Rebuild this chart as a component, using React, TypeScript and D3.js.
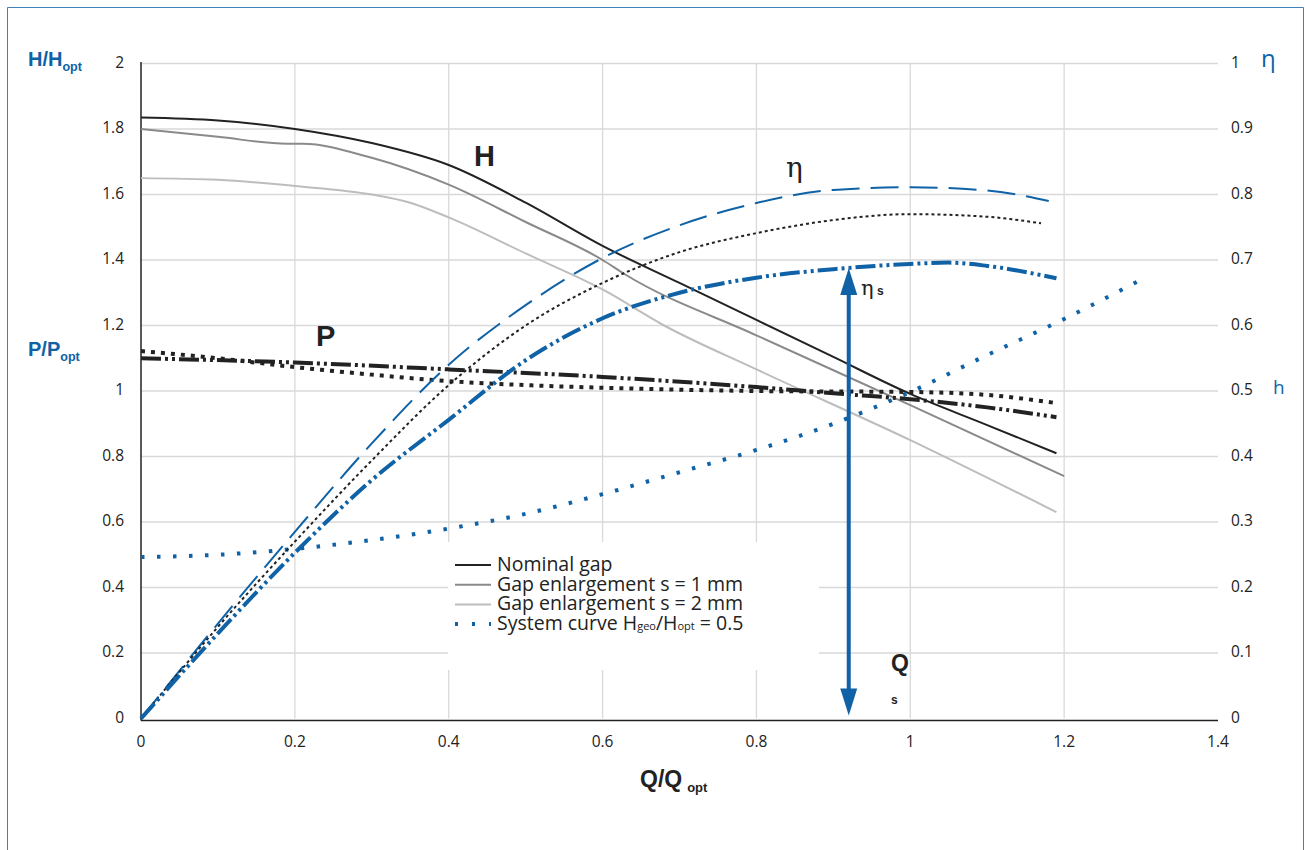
import React from "react";
import * as d3 from "d3";

// ---------- data ----------
const xTicks = [0, 0.2, 0.4, 0.6, 0.8, 1, 1.2, 1.4];
const leftTicks = [0, 0.2, 0.4, 0.6, 0.8, 1, 1.2, 1.4, 1.6, 1.8, 2];
const rightTicks = [0, 0.1, 0.2, 0.3, 0.4, 0.5, 0.6, 0.7, 0.8, 0.9, 1];

const qHnom = [0, 0.1, 0.2, 0.3, 0.4, 0.5, 0.6, 0.7, 0.8, 0.9, 1.0, 1.1, 1.19];
const hNom = [1.835, 1.826, 1.8, 1.757, 1.69, 1.575, 1.443, 1.33, 1.217, 1.104, 0.991, 0.896, 0.81];

const qHs1 = [0, 0.1, 0.19, 0.21, 0.3, 0.4, 0.5, 0.6, 0.63, 0.8, 1.0, 1.2];
const hS1 = [1.8, 1.776, 1.755, 1.755, 1.712, 1.63, 1.516, 1.4, 1.355, 1.17, 0.957, 0.74];

const qHs2 = [0, 0.1, 0.2, 0.3, 0.35, 0.4, 0.5, 0.6, 0.68, 0.8, 1.0, 1.19];
const hS2 = [1.65, 1.645, 1.626, 1.6, 1.575, 1.53, 1.42, 1.31, 1.2, 1.066, 0.85, 0.63];

const qEtaNom = [0, 0.1, 0.2, 0.3, 0.4, 0.5, 0.6, 0.7, 0.8, 0.9, 1.0, 1.1, 1.18];
const etaNom = [0, 0.145, 0.285, 0.42, 0.54, 0.631, 0.703, 0.753, 0.787, 0.807, 0.811, 0.806, 0.79];

const qEtaS1 = [0, 0.1, 0.2, 0.3, 0.4, 0.5, 0.6, 0.7, 0.8, 0.9, 1.0, 1.1, 1.17];
const etaS1 = [0, 0.14, 0.27, 0.394, 0.509, 0.6, 0.665, 0.712, 0.741, 0.761, 0.77, 0.766, 0.756];

const qEtaS2 = [0, 0.1, 0.2, 0.3, 0.4, 0.5, 0.6, 0.7, 0.8, 0.9, 1.0, 1.05, 1.1, 1.19];
const etaS2 = [0, 0.13, 0.253, 0.364, 0.456, 0.547, 0.611, 0.65, 0.673, 0.686, 0.694, 0.696, 0.691, 0.672];

const qP1 = [0, 0.2, 0.4, 0.6, 0.8, 0.9, 1.0, 1.1, 1.19];
const p1 = [1.1, 1.087, 1.066, 1.043, 1.012, 0.993, 0.975, 0.95, 0.92];

const qP2 = [0, 0.1, 0.2, 0.3, 0.4, 0.5, 0.6, 0.8, 1.0, 1.1, 1.19];
const p2 = [1.122, 1.1, 1.073, 1.05, 1.03, 1.018, 1.01, 1.0, 0.997, 0.988, 0.963];

const qSys = [0, 0.1, 0.2, 0.3, 0.4, 0.5, 0.6, 0.7, 0.8, 0.9, 1.0, 1.1, 1.2, 1.3];
const hSys = [0.493, 0.5, 0.518, 0.545, 0.58, 0.625, 0.685, 0.752, 0.82, 0.9, 0.997, 1.11, 1.22, 1.34];

const qS = 0.92;

const legendItems = [
  { label: "Nominal gap", kind: "nom" },
  { label: "Gap enlargement s = 1 mm", kind: "s1" },
  { label: "Gap enlargement s = 2 mm", kind: "s2" },
  { label: "System curve", kind: "sys" },
];

// ---------- styles ----------
const BLUE = "#0f62a6";
const DARK = "#222222";
const GRID = "#d9d9d9";
const FONT = "'Open Sans', 'Noto Sans', sans-serif";
const BOLD = "'Liberation Sans', Arial, sans-serif";

export default function App() {
  const x = d3.scaleLinear().domain([0, 1.4]).range([141, 1218]);
  const yL = d3.scaleLinear().domain([0, 2]).range([718.5, 63.5]);
  const yR = d3.scaleLinear().domain([0, 1]).range([718.5, 63.5]);

  const mk = (qs: number[], vs: number[], ys: d3.ScaleLinear<number, number>) =>
    d3
      .line<number>()
      .x((_, i) => x(qs[i]))
      .y((v) => ys(v))
      .curve(d3.curveMonotoneX)(vs) as string;

  const lineNom = mk(qHnom, hNom, yL);
  const lineS1 = mk(qHs1, hS1, yL);
  const lineS2 = mk(qHs2, hS2, yL);
  const lEtaNom = mk(qEtaNom, etaNom, yR);
  const lEtaS1 = mk(qEtaS1, etaS1, yR);
  const lEtaS2 = mk(qEtaS2, etaS2, yR);
  const lP1 = mk(qP1, p1, yL);
  const lP2 = mk(qP2, p2, yL);
  const lSys = mk(qSys, hSys, yL);

  const etaAtQs = d3.interpolateNumber(0.686, 0.694)((qS - 0.9) / 0.1);
  const ax = x(qS);
  const aTop = yR(etaAtQs);
  const aBot = yR(0) - 3;

  const legY0 = 565;
  const legDy = 19.7;

  return (
    <svg width={1305} height={850} style={{ position: "absolute", left: 0, top: 0, background: "#fff" }}>
      <rect x={0} y={0} width={1305} height={850} fill="#fff" />
      {/* frame */}
      <path d="M7.5,850 V7.5 H1303.5 V850" fill="none" stroke="#3d82bd" strokeWidth={1} />

      {/* grid */}
      {leftTicks.slice(1).map((t) => (
        <line key={"h" + t} x1={x(0)} x2={x(1.4)} y1={yL(t)} y2={yL(t)} stroke={GRID} strokeWidth={1.3} />
      ))}
      {xTicks.slice(1, -1).map((t) => (
        <line key={"v" + t} x1={x(t)} x2={x(t)} y1={yL(2)} y2={yL(0)} stroke={GRID} strokeWidth={1.3} />
      ))}

      {/* legend background */}
      <rect x={448} y={542} width={371} height={128} fill="#fff" />

      {/* axes */}
      <line x1={x(0)} x2={x(0)} y1={62} y2={yL(0) + 2} stroke={DARK} strokeWidth={1.5} />
      <line x1={x(0)} x2={x(1.4)} y1={yL(0) + 2} y2={yL(0) + 2} stroke={DARK} strokeWidth={1.5} />

      {/* tick labels */}
      {leftTicks.map((t) => (
        <text key={"lt" + t} x={124} y={yL(t) - 2} textAnchor="end" dominantBaseline="central"
          fontFamily={FONT} fontSize={15.5} fill={DARK}>{d3.format("~g")(t)}</text>
      ))}
      {rightTicks.map((t) => (
        <text key={"rt" + t} x={1231} y={yR(t) - 2} textAnchor="start" dominantBaseline="central"
          fontFamily={FONT} fontSize={15.5} fill={DARK}>{d3.format("~g")(t)}</text>
      ))}
      {xTicks.map((t) => (
        <text key={"xt" + t} x={x(t)} y={747} textAnchor="middle"
          fontFamily={FONT} fontSize={15.5} fill={DARK}>{d3.format("~g")(t)}</text>
      ))}

      {/* axis titles */}
      <text x={28} y={66} fontFamily={BOLD} fontWeight="bold" fontSize={20} fill={BLUE}>
        H/H<tspan fontSize={12.5} dy={5}>opt</tspan>
      </text>
      <text x={28} y={356} fontFamily={BOLD} fontWeight="bold" fontSize={20} fill={BLUE}>
        P/P<tspan fontSize={12.5} dy={5}>opt</tspan>
      </text>
      <text x={1261} y={67} fontFamily={FONT} fontSize={24} fill={BLUE}>η</text>
      <text x={1273} y={394} fontFamily={FONT} fontSize={19} fill={BLUE}>h</text>
      <text x={640} y={787} fontFamily={BOLD} fontWeight="bold" fontSize={23} fill={DARK}>
        Q/Q<tspan fontSize={13} dx={5} dy={5}>opt</tspan>
      </text>

      {/* H curves */}
      <path d={lineS2} fill="none" stroke="#bdbdbd" strokeWidth={2} />
      <path d={lineS1} fill="none" stroke="#8a8a8a" strokeWidth={2} />
      <path d={lineNom} fill="none" stroke={DARK} strokeWidth={2} />

      {/* system curve */}
      <path d={lSys} fill="none" stroke={BLUE} strokeWidth={4} strokeDasharray="3.5 12.5" />

      {/* P curves */}
      <path d={lP2} fill="none" stroke={DARK} strokeWidth={4} strokeDasharray="4 6" />
      <path d={lP1} fill="none" stroke={DARK} strokeWidth={4} strokeDasharray="20 4 3 4 3 4" />

      {/* efficiency curves */}
      <path d={lEtaNom} fill="none" stroke={BLUE} strokeWidth={2} strokeDasharray="28 11" />
      <path d={lEtaS1} fill="none" stroke={DARK} strokeWidth={2} strokeDasharray="3 3" />
      <path d={lEtaS2} fill="none" stroke={BLUE} strokeWidth={4} strokeDasharray="20 4 3 4 3 4" />

      {/* arrow */}
      <line x1={ax} x2={ax} y1={aTop + 20} y2={aBot - 20} stroke={BLUE} strokeWidth={4} />
      <path d={`M${ax},${aTop} L${ax - 8.5},${aTop + 27} L${ax + 8.5},${aTop + 27} Z`} fill={BLUE} />
      <path d={`M${ax},${aBot} L${ax - 8.5},${aBot - 27} L${ax + 8.5},${aBot - 27} Z`} fill={BLUE} />

      {/* curve labels */}
      <text x={474} y={166} fontFamily={BOLD} fontWeight="bold" fontSize={29} fill={DARK}>H</text>
      <text x={316} y={346} fontFamily={BOLD} fontWeight="bold" fontSize={29} fill={DARK}>P</text>
      <text x={786} y={177} fontFamily="'DejaVu Serif', serif" fontSize={28} fill={DARK}>η</text>
      <text x={861} y={295} fontFamily="'DejaVu Serif', serif" fontSize={21} fill={DARK}>η</text>
      <text x={877} y={295} fontFamily={BOLD} fontWeight="bold" fontSize={12} fill={DARK}>s</text>
      <text x={891} y={671} fontFamily={BOLD} fontWeight="bold" fontSize={23} fill={DARK}>Q</text>
      <text x={891} y={704} fontFamily={BOLD} fontWeight="bold" fontSize={12} fill={DARK}>s</text>

      {/* legend */}
      {legendItems.map((it, i) => {
        const yy = legY0 + i * legDy;
        const stroke = it.kind === "nom" ? DARK : it.kind === "s1" ? "#8a8a8a" : it.kind === "s2" ? "#bdbdbd" : BLUE;
        return (
          <g key={it.kind}>
            {it.kind === "sys" ? (
              <line x1={455} x2={491} y1={yy} y2={yy} stroke={stroke} strokeWidth={4} strokeDasharray="3 14" />
            ) : (
              <line x1={455} x2={491} y1={yy} y2={yy} stroke={stroke} strokeWidth={2} />
            )}
            <text x={497} y={yy + 6} fontFamily={FONT} fontSize={19.5} fill={DARK}>
              {it.label}
              {it.kind === "sys" ? (
                <>
                  {" H"}
                  <tspan fontSize={11}>geo</tspan>
                  {"/H"}
                  <tspan fontSize={11}>opt</tspan>
                  {" = 0.5"}
                </>
              ) : null}
            </text>
          </g>
        );
      })}
    </svg>
  );
}
